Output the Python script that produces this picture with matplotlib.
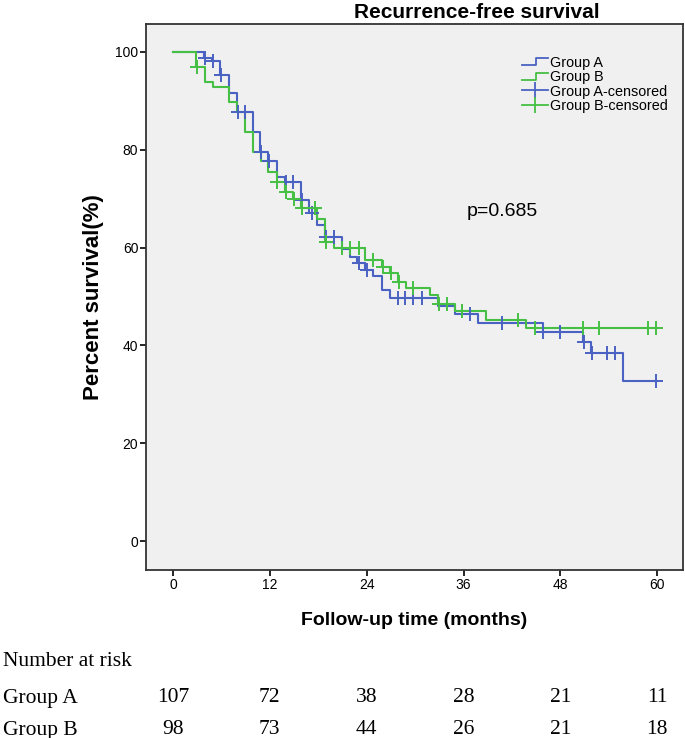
import numpy as np
import matplotlib
matplotlib.use('Agg')
import matplotlib.pyplot as plt
from matplotlib.lines import Line2D
from matplotlib.legend_handler import HandlerBase

# step curves (time in months, survival in %)
a_times = [0, 3.8, 4.8, 5.8, 6.9, 7.9, 9.95, 10.8, 11.8, 12.85, 13.9, 15.8, 16.8, 17.8,
           18.8, 20.9, 21.9, 22.8, 23.8, 24.8, 25.9, 26.9, 32.8, 34.9, 37.8, 45.8,
           50.8, 51.8, 55.8, 60]
a_surv = [100, 98.8, 98.2, 95.3, 91.5, 87.8, 83.7, 79.6, 77.6, 74.5, 73.5, 69.7, 67.0, 64.6,
          62.2, 59.8, 58.0, 56.8, 55.4, 54.1, 51.3, 49.6, 48.0, 46.5, 44.6, 42.8,
          40.8, 38.5, 32.7, 32.7]
a_cens = [4.0, 4.9, 6.0, 8.0, 8.9, 10.9, 11.9, 13.95, 14.9, 16.0, 17.2, 19.0, 19.9, 23.0,
          24.0, 27.9, 28.7, 29.8, 30.8, 36.8, 40.8, 45.9, 47.9, 50.9, 51.9, 53.8, 54.8, 59.85]

b_times = [0, 2.9, 3.9, 4.9, 6.9, 7.9, 8.9, 9.95, 10.9, 11.8, 12.85, 13.9, 14.9, 15.9,
           17.8, 18.8, 19.9, 23.8, 25.9, 26.9, 27.9, 28.9, 31.8, 32.8, 34.9, 38.8, 43.8, 60]
b_surv = [100, 97.0, 93.9, 92.9, 89.8, 87.8, 83.7, 79.6, 77.6, 75.5, 73.5, 71.4, 69.9, 68.0,
          65.8, 61.2, 59.9, 57.5, 56.1, 54.8, 53.0, 51.7, 50.3, 48.5, 47.1, 45.3, 43.5, 43.5]
b_cens = [3.0, 12.9, 13.95, 14.95, 16.0, 17.6, 18.9, 20.9, 21.9, 23.0, 24.8, 26.0, 27.0,
          28.0, 29.8, 33.0, 33.9, 35.8, 42.8, 44.9, 50.8, 52.8, 58.9, 59.85]

risk_times = [0, 12, 24, 36, 48, 60]
risk_a = [107, 72, 38, 28, 21, 11]
risk_b = [98, 73, 44, 26, 21, 18]

blue = '#4a62c2'
green = '#45c045'


def surv_at(times, surv, t):
    i = np.searchsorted(times, t, side='right') - 1
    return np.array(surv)[i]


class StepHandler(HandlerBase):
    def create_artists(self, legend, orig, xd, yd, width, height, fontsize, trans):
        xs = [-xd, -xd + width * 0.55, -xd + width * 0.55, -xd + width]
        ys = [height * 0.15, height * 0.15, height * 0.85, height * 0.85]
        ln = Line2D(xs, ys, color=orig.get_color(), lw=1.3, transform=trans)
        return [ln]


fig = plt.figure(figsize=(6.85, 7.38), dpi=100)
ax = fig.add_axes([146 / 685, 1 - 570 / 738, 537 / 685, 546 / 738])
ax.set_facecolor('#f0f0f0')

ax.step(a_times, a_surv, where='post', color=blue, lw=1.5)
ax.step(b_times, b_surv, where='post', color=green, lw=1.5)
ax.plot(a_cens, surv_at(a_times, a_surv, a_cens), '+', color=blue, ms=10, mew=1.4)
ax.plot(b_cens, surv_at(b_times, b_surv, b_cens), '+', color=green, ms=10, mew=1.4)

ax.set_xlim(-3.35, 63.2)
ax.set_ylim(-5.9, 105.7)
ax.set_xticks(risk_times)
ax.set_yticks([0, 20, 40, 60, 80, 100])
ax.tick_params(direction='out', length=4, width=1.2, labelsize=10, pad=2)
ax.tick_params(axis='y', pad=1.5)
for lab in ax.get_xticklabels() + ax.get_yticklabels():
    lab.set_family('Liberation Sans')
for sp in ax.spines.values():
    sp.set_linewidth(1.3)
    sp.set_color('#333333')

ax.set_xlabel('Follow-up time (months)', fontsize=14, fontweight='bold',
              family='Liberation Sans', labelpad=14)
ax.set_ylabel('Percent survival(%)', fontsize=16, fontweight='bold',
              family='Liberation Sans', labelpad=8)
fig.text(477 / 685, 1 - 12 / 738, 'Recurrence-free survival', fontsize=15,
         fontweight='bold', family='Liberation Sans', ha='center', va='center')
ax.text(40.8, 67.3, 'p=0.685', fontsize=14, family='Liberation Sans',
        ha='center', va='center')

handles = [Line2D([], [], color=blue), Line2D([], [], color=green),
           Line2D([], [], color=blue, marker='|', ms=11, mew=1.3, lw=1.3),
           Line2D([], [], color=green, marker='|', ms=11, mew=1.3, lw=1.3)]
labels = ['Group A', 'Group B', 'Group A-censored', 'Group B-censored']
ax.legend(handles, labels, loc='upper left', bbox_to_anchor=(0.70, 0.942),
          frameon=False, prop={'family': 'Liberation Sans', 'size': 10.4},
          handlelength=1.8, handletextpad=0.15, labelspacing=0.03,
          borderpad=0, borderaxespad=0,
          handler_map={handles[0]: StepHandler(), handles[1]: StepHandler()})

# number at risk table
tr = ax.get_xaxis_transform()
fig.text(3 / 685, 1 - 662 / 738, 'Number at risk', fontsize=15.5,
         family='Liberation Serif', va='center')
fig.text(3 / 685, 1 - 698 / 738, 'Group A', fontsize=15.5,
         family='Liberation Serif', va='center')
fig.text(3 / 685, 1 - 730 / 738, 'Group B', fontsize=15.5,
         family='Liberation Serif', va='center')
ya = (570 - 698) / 546
yb = (570 - 730) / 546
for t, na, nb in zip(risk_times, risk_a, risk_b):
    ax.text(t, ya, str(na), transform=tr, fontsize=15.5, family='Liberation Serif',
            ha='center', va='center', clip_on=False)
    ax.text(t, yb, str(nb), transform=tr, fontsize=15.5, family='Liberation Serif',
            ha='center', va='center', clip_on=False)

fig.savefig('out.png', dpi=100)
